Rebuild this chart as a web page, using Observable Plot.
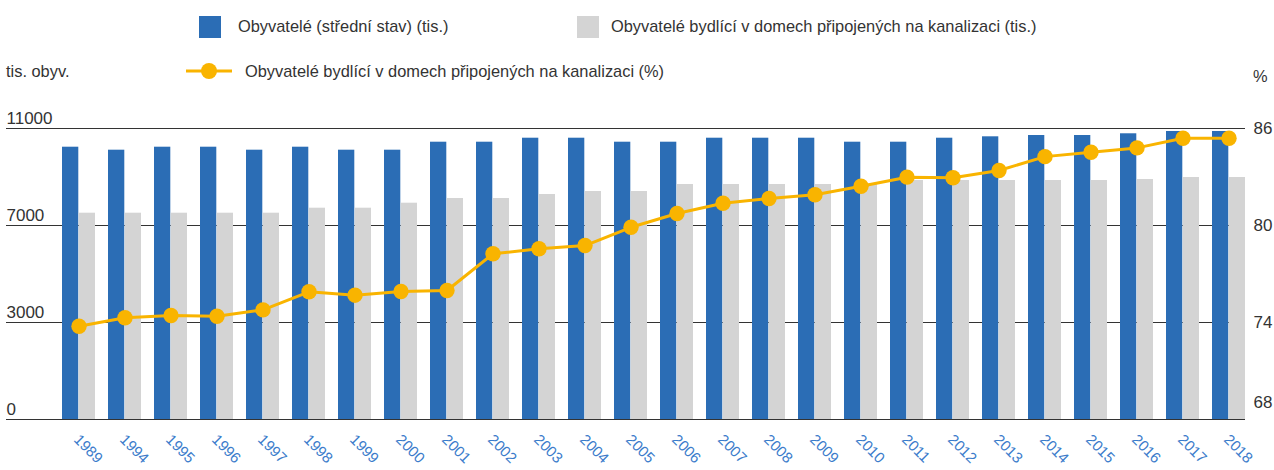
<!DOCTYPE html>
<html>
<head>
<meta charset="utf-8">
<script src="https://cdn.jsdelivr.net/npm/d3@7"></script>
<script src="https://cdn.jsdelivr.net/npm/@observablehq/plot@0.6"></script>
<style>
  body { margin: 0; background: #fff; font-family: "Liberation Sans", Arial, sans-serif; color: #333; }
  #wrap { position: relative; width: 1274px; height: 470px; }
  #legend { position: relative; width: 1274px; height: 90px; font-size: 16.4px; }
  .it { position: absolute; white-space: nowrap; }
  .sw { position: absolute; width: 22px; height: 22px; }
  svg { display: block; }
</style>
</head>
<body>
<div id="wrap">
  <div id="legend"></div>
  <div id="chart"></div>
</div>
<script>
const allYears = ["1989","1994","1995","1996","1997","1998","1999","2000","2001","2002","2003","2004","2005","2006","2007","2008","2009","2010","2011","2012","2013","2014","2015","2016","2017","2018"];
// population (thousands)
const population = [10293,10180,10293,10293,10180,10293,10180,10180,10482,10482,10633,10633,10482,10482,10633,10633,10633,10482,10482,10633,10686,10735,10735,10800,10887,10887];
// inhabitants connected to sewerage (thousands)
const connected = [7798,7798,7798,7798,7798,7987,7987,8176,8354,8354,8505,8619,8619,8883,8883,8883,8883,8910,9034,9034,9034,9034,9034,9072,9148,9148];
// share connected (%)
const sharePct = [73.77,74.29,74.43,74.39,74.78,75.9,75.69,75.92,75.98,78.25,78.56,78.76,79.89,80.74,81.38,81.67,81.9,82.43,82.99,82.95,83.4,84.26,84.53,84.8,85.4,85.4];

const leftTickLabels = ["0","3000","7000","11000"];
const rightTicks = [68,74,80,86];
const popMax = 11000;

const seriesNames = [
  "Obyvatelé (střední stav) (tis.)",
  "Obyvatelé bydlící v domech připojených na kanalizaci (tis.)",
  "Obyvatelé bydlící v domech připojených na kanalizaci (%)"
];
const colors = ["#2b6db5", "#d4d4d4", "#f9b400"];
const textColor = "#333";
const yearColor = "#3b7ccb";

// map percent scale (68..86) onto population scale (0..11000)
const pMin = rightTicks[0], pMax = rightTicks[rightTicks.length - 1];
const toY = p => (p - pMin) / (pMax - pMin) * popMax;

const rows = allYears.map((y, i) => ({year: y, pop: population[i], con: connected[i], pct: sharePct[i], py: toY(sharePct[i])}));
const grid = rightTicks.map((p, i) => ({v: toY(p), p, left: leftTickLabels[i]}));

// legend
const lg = document.getElementById("legend");
lg.innerHTML = `
  <div class="sw" style="left:199px;top:16px;background:${colors[0]}"></div>
  <div class="it" style="left:238px;top:17px">${seriesNames[0]}</div>
  <div class="sw" style="left:577px;top:16px;background:${colors[1]}"></div>
  <div class="it" style="left:611px;top:17px">${seriesNames[1]}</div>
  <div class="it" style="left:6px;top:62px">tis. obyv.</div>
  <svg class="it" style="left:184px;top:61px" width="50" height="20">
    <line x1="2" y1="10" x2="48" y2="10" stroke="${colors[2]}" stroke-width="3"/>
    <circle cx="25" cy="10" r="8" fill="${colors[2]}"/>
  </svg>
  <div class="it" style="left:245px;top:62px">${seriesNames[2]}</div>
  <div class="it" style="left:1253px;top:67px">%</div>
`;

const W = 1274, H = 380;
const chart = Plot.plot({
  width: W,
  height: H,
  marginTop: 38,
  marginBottom: 51,
  marginLeft: 6,
  marginRight: 29,
  style: {fontFamily: '"Liberation Sans", Arial, sans-serif', color: textColor, background: "#fff"},
  x: {type: "band", domain: allYears, paddingInner: 0.275, paddingOuter: 0.564, align: 1, axis: null},
  y: {domain: [0, popMax], axis: null},
  marks: [
    Plot.ruleY(grid, {y: "v", stroke: "#333", strokeWidth: 1.2}),
    Plot.barY(rows, {x: "year", y: "pop", fill: colors[0], insetRight: 16.7}),
    Plot.barY(rows, {x: "year", y: "con", fill: colors[1], insetLeft: 16.7}),
    Plot.line(rows, {x: "year", y: "py", stroke: colors[2], strokeWidth: 3}),
    Plot.dot(rows, {x: "year", y: "py", r: 7.7, fill: colors[2]}),
    Plot.text(grid, {y: "v", text: "left", frameAnchor: "left", textAnchor: "start", dy: -10, fontSize: 17, fill: textColor}),
    Plot.text(grid.filter(d => d.p !== pMin), {y: "v", text: d => String(d.p), frameAnchor: "right", textAnchor: "start", dx: 8, fontSize: 17, fill: textColor}),
    Plot.text(grid.filter(d => d.p === pMin), {y: "v", text: d => String(d.p), frameAnchor: "right", textAnchor: "start", dx: 8, dy: -17, fontSize: 17, fill: textColor}),
    Plot.text(allYears, {x: d => d, frameAnchor: "bottom", rotate: 45, textAnchor: "start", dx: -6, dy: 21, fontSize: 15, fill: yearColor})
  ]
});
document.getElementById("chart").appendChild(chart);
</script>
</body>
</html>
